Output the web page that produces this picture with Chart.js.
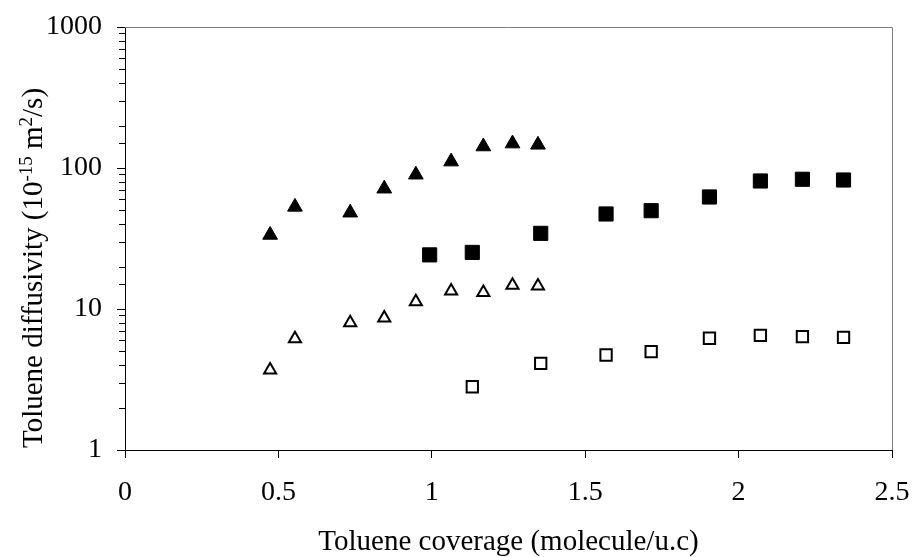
<!DOCTYPE html>
<html>
<head>
<meta charset="utf-8">
<script src="https://cdn.jsdelivr.net/npm/chart.js@4.4.1/dist/chart.umd.min.js"></script>
<style>
  body { margin: 0; background: #fff; }
  #wrap { width: 912px; height: 557px; position: relative; }
</style>
</head>
<body>
<div id="wrap"><canvas id="myChart"></canvas></div>
<script>
// coverage values (molecule/u.c)
let triCoverage = [0.473, 0.554, 0.734, 0.845, 0.948, 1.063, 1.168, 1.263, 1.346];
let sqCoverage = [0.993, 1.132, 1.355, 1.568, 1.715, 1.905, 2.071, 2.208, 2.342];
let openSqCoverage = [1.132, 1.355, 1.568, 1.715, 1.905, 2.071, 2.208, 2.342];

// diffusivity values (10^-15 m2/s)
let filledTriangles = [33.5, 53, 48.2, 71.3, 89.6, 111, 142, 149, 146];
let filledSquares = [24.2, 25.2, 34.4, 47.2, 49.8, 62.3, 80.9, 83.2, 82.2];
let openTriangles = [3.70, 6.14, 8.0, 8.65, 11.25, 13.4, 13.1, 14.75, 14.55];
let openSquares = [2.81, 4.12, 4.72, 4.98, 6.2, 6.51, 6.36, 6.3];

let xTicks = [0, 0.5, 1, 1.5, 2, 2.5];
let yLabels = [1, 10, 100, 1000];

const serif = "'Liberation Serif', 'Times New Roman', serif";

function pairs(xs, ys){
    let out = [];
    for(let i = 0; i < ys.length; i++){
        out.push({x: xs[i], y: ys[i]});
    }
    return out;
}

function isDecade(v){
    let l = Math.log10(v);
    return Math.abs(l - Math.round(l)) < 1e-9;
}

// minor y ticks, gray frame and the y title with superscripts
const extras = {
    id: 'extras',
    beforeDatasetsDraw(chart){
        const ctx = chart.ctx;
        const a = chart.chartArea;
        const y = chart.scales.y;
        ctx.save();
        ctx.strokeStyle = '#808080';
        ctx.lineWidth = 1;
        ctx.beginPath();
        ctx.moveTo(a.left, Math.round(a.top) + 0.5);
        ctx.lineTo(Math.round(a.right) + 0.5, Math.round(a.top) + 0.5);
        ctx.lineTo(Math.round(a.right) + 0.5, a.bottom);
        ctx.stroke();

        ctx.strokeStyle = '#000';
        y.ticks.forEach(function(t){
            if(isDecade(t.value)) return;
            let py = Math.round(y.getPixelForValue(t.value)) + 0.5;
            ctx.beginPath();
            ctx.moveTo(a.left - 6, py);
            ctx.lineTo(a.left, py);
            ctx.stroke();
        });

        // y axis title
        const parts = [
            {t: 'Toluene diffusivity (10', sup: false},
            {t: '-15', sup: true},
            {t: ' m', sup: false},
            {t: '2', sup: true},
            {t: '/s)', sup: false}
        ];
        const big = '29px ' + serif, small = '19px ' + serif;
        let total = 0;
        parts.forEach(function(p){
            ctx.font = p.sup ? small : big;
            p.w = ctx.measureText(p.t).width;
            total += p.w;
        });
        ctx.translate(42, 268);
        ctx.rotate(-Math.PI / 2);
        ctx.fillStyle = '#000';
        ctx.textBaseline = 'alphabetic';
        ctx.textAlign = 'left';
        let cx = -total / 2;
        parts.forEach(function(p){
            ctx.font = p.sup ? small : big;
            ctx.fillText(p.t, cx, p.sup ? -10 : 0);
            cx += p.w;
        });
        ctx.restore();
    }
};

let ctx = document.getElementById('myChart').getContext('2d');
let config = {
    type: 'scatter',
    data: {
        datasets: [{
            label: 'filled triangles',
            data: pairs(triCoverage, filledTriangles),
            pointStyle: 'triangle',
            pointRadius: 8.5,
            backgroundColor: '#000',
            borderColor: '#000',
            borderWidth: 1
        }, {
            label: 'filled squares',
            data: pairs(sqCoverage, filledSquares),
            pointStyle: 'rect',
            pointRadius: 10,
            backgroundColor: '#000',
            borderColor: '#000',
            borderWidth: 1
        }, {
            label: 'open triangles',
            data: pairs(triCoverage, openTriangles),
            pointStyle: 'triangle',
            pointRadius: 7,
            backgroundColor: '#fff',
            borderColor: '#000',
            borderWidth: 2
        }, {
            label: 'open squares',
            data: pairs(openSqCoverage, openSquares),
            pointStyle: 'rect',
            pointRadius: 8,
            backgroundColor: '#fff',
            borderColor: '#000',
            borderWidth: 2
        }]
    },
    options: {
        responsive: true,
        maintainAspectRatio: false,
        animation: false,
        layout: {padding: {left: 0, right: 20, top: 27, bottom: 0}},
        plugins: {
            legend: {display: false},
            tooltip: {enabled: false}
        },
        scales: {
            x: {
                type: 'linear',
                min: 0,
                max: 2.5,
                afterFit: function(scale){
                    scale.height = 107;
                    scale.paddingLeft = 0;
                    scale.paddingRight = 0;
                },
                afterBuildTicks: function(scale){
                    scale.ticks = xTicks.map(function(v){ return {value: v}; });
                },
                border: {display: true, color: '#000', width: 1},
                grid: {drawOnChartArea: false, drawTicks: true, tickLength: 8, tickColor: '#000'},
                ticks: {
                    color: '#000',
                    padding: 18,
                    font: {family: serif, size: 28},
                    maxRotation: 0,
                    callback: function(value){ return String(value); }
                },
                title: {
                    display: true,
                    text: 'Toluene coverage (molecule/u.c)',
                    color: '#000',
                    font: {family: serif, size: 29, lineHeight: 1},
                    padding: 0
                }
            },
            y: {
                type: 'logarithmic',
                min: 1,
                max: 1000,
                afterFit: function(scale){
                    scale.width = 125;
                    scale.paddingTop = 0;
                    scale.paddingBottom = 0;
                },
                border: {display: true, color: '#000', width: 1},
                grid: {
                    drawOnChartArea: false,
                    drawTicks: true,
                    tickLength: 8,
                    tickColor: function(c){
                        return (c.tick && isDecade(c.tick.value)) ? '#000' : 'rgba(0,0,0,0)';
                    }
                },
                ticks: {
                    autoSkip: false,
                    color: '#000',
                    padding: 15,
                    font: {family: serif, size: 28},
                    callback: function(value){
                        return yLabels.indexOf(value) !== -1 ? String(value) : '';
                    }
                }
            }
        }
    },
    plugins: [extras]
};
let myChart = new Chart(ctx, config);
</script>
</body>
</html>
